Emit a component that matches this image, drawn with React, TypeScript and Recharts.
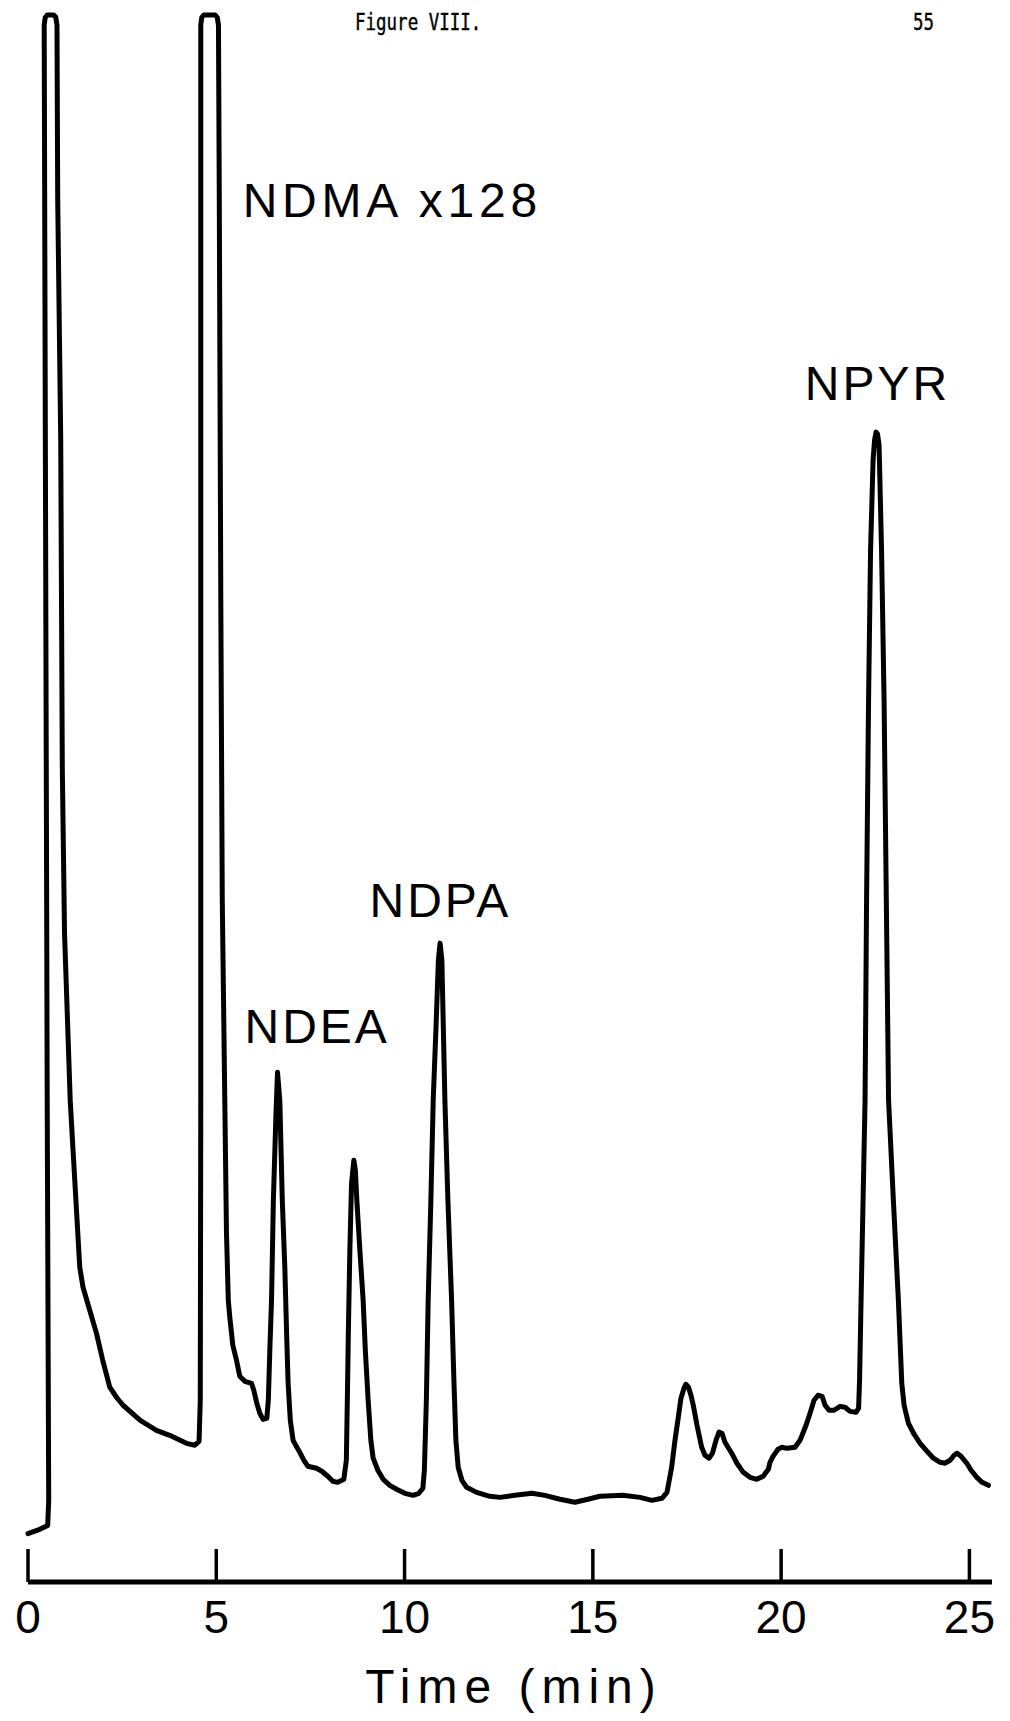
import { LineChart, Line, XAxis, YAxis, ReferenceDot } from "recharts";

// Detector trace: retention time (min) and recorder response (% of full scale)
const times = [
  0.0, 0.311, 0.523, 0.55, 0.51, 0.43, 0.457, 0.51, 0.683, 0.736, 0.77, 0.789,
  0.869, 0.911, 0.97, 1.121, 1.196, 1.374, 1.461, 1.639, 1.817, 1.985, 2.171,
  2.349, 2.524, 2.982, 3.411, 3.762, 4.208, 4.429, 4.543, 4.575, 4.588, 4.588,
  4.614, 4.667, 4.973, 5.027, 5.058, 5.08, 5.12, 5.159, 5.226, 5.271, 5.319,
  5.359, 5.439, 5.537, 5.624, 5.757, 5.935, 5.996, 6.076, 6.156, 6.243, 6.342,
  6.382, 6.422, 6.467, 6.516, 6.582, 6.626, 6.687, 6.753, 6.82, 6.873, 6.908,
  6.966, 7.04, 7.139, 7.218, 7.325, 7.431, 7.662, 7.803, 7.962, 8.095, 8.228,
  8.387, 8.454, 8.48, 8.507, 8.547, 8.592, 8.653, 8.693, 8.733, 8.813, 8.9,
  8.958, 9.033, 9.105, 9.166, 9.291, 9.432, 9.609, 9.787, 10.008, 10.228,
  10.38, 10.486, 10.526, 10.579, 10.627, 10.699, 10.761, 10.832, 10.898,
  10.943, 10.991, 11.071, 11.151, 11.249, 11.31, 11.363, 11.424, 11.523,
  11.648, 11.913, 12.266, 12.532, 12.93, 13.382, 13.727, 14.126, 14.524,
  14.87, 15.189, 15.8, 16.251, 16.57, 16.836, 16.969, 17.093, 17.181, 17.269,
  17.34, 17.42, 17.473, 17.54, 17.606, 17.667, 17.766, 17.89, 17.978, 18.084,
  18.177, 18.27, 18.35, 18.43, 18.509, 18.687, 18.828, 18.995, 19.173, 19.351,
  19.519, 19.66, 19.705, 19.784, 19.917, 20.024, 20.157, 20.369, 20.502,
  20.662, 20.768, 20.874, 20.981, 21.088, 21.167, 21.273, 21.406, 21.566,
  21.698, 21.831, 21.991, 22.057, 22.083, 22.123, 22.176, 22.229, 22.269,
  22.322, 22.375, 22.442, 22.481, 22.521, 22.561, 22.601, 22.667, 22.734,
  22.787, 22.853, 22.981, 23.114, 23.204, 23.265, 23.38, 23.531, 23.691,
  23.877, 24.044, 24.222, 24.355, 24.488, 24.594, 24.674, 24.78, 24.931,
  25.045, 25.197, 25.337, 25.505,
];

const signal = [
  3.09, 3.36, 3.61, 5.22, 30.7, 99.36, 99.84, 100, 100, 99.87, 99.36, 88.19,
  72.94, 51.94, 41.41, 30.75, 27.56, 20.09, 18.81, 17.34, 15.88, 14.15, 12.43,
  11.79, 11.28, 10.32, 9.68, 9.36, 8.85, 8.73, 8.98, 11.6, 30.75, 99.36,
  99.84, 100, 100, 99.84, 99.36, 88.19, 62.66, 43.52, 30.75, 22.26, 17.98,
  16.9, 15.11, 14.15, 13.13, 12.81, 12.68, 12.24, 11.41, 10.77, 10.38, 10.45,
  11.6, 14.79, 17.98, 24.36, 29.66, 32.53, 30.75, 24.36, 20.09, 15.43, 12.68,
  10.32, 9.04, 8.6, 8.28, 7.77, 7.39, 7.26, 7.07, 6.75, 6.43, 6.36,
  6.55, 7.77, 11.6, 15.88, 21.17, 25.45, 26.92, 26.28, 24.36, 21.17, 17.98,
  14.79, 11.6, 9.04, 7.9, 7.13, 6.55, 6.17, 5.92, 5.66, 5.53,
  5.66, 5.98, 7.13, 11.6, 17.98, 24.36, 30.75, 35.21, 39.68,
  40.77, 39.68, 30.75, 24.36, 17.98, 12.88, 9.04, 7.32, 6.49,
  6.04, 5.72, 5.47, 5.4, 5.53, 5.66, 5.53, 5.28, 5.09,
  5.28, 5.47, 5.53, 5.4, 5.21, 5.34, 5.72, 7.32, 9.04, 10.51,
  11.73, 12.37, 12.62, 12.43, 11.92, 11.28, 10.0, 8.6, 8.09, 7.9,
  8.22, 9.04, 9.56, 9.49, 8.92, 8.22, 7.58, 7.0, 6.68, 6.55,
  6.74, 7.19, 7.64, 8.02, 8.47, 8.6, 8.53, 8.6, 9.04,
  10.0, 10.77, 11.6, 11.92, 11.85, 11.28, 10.96, 10.96, 11.21,
  11.15, 10.89, 10.83, 11.09, 12.87, 17.98, 24.36, 30.75, 43.52,
  56.28, 65.85, 71.6, 72.87, 73.38, 73.26, 72.55, 65.85, 56.28,
  44.92, 30.75, 24.36, 17.98, 12.68, 11.28, 10.13, 9.43, 8.85,
  8.34, 7.9, 7.64, 7.58, 7.77, 8.09, 8.22, 8.02, 7.58,
  7.13, 6.68, 6.36, 6.17,
];

const timeTicks = [0, 5, 10, 15, 20, 25];

// label anchors (start of text baseline) in time / response units
const peakNames = ["NDMA x128", "NDEA", "NDPA", "NPYR"];
const peakLabelTimes = [5.7, 5.75, 9.07, 20.63];
const peakLabelLevels = [87.13, 34.37, 42.45, 75.43];
const peakLabelSpacing = [4.8, 3, 3, 3];

const data = times.map((t, i) => ({ t, v: signal[i] }));

const LETTERING = "'Liberation Sans', Arial, sans-serif";
const TYPEWRITER = "'DejaVu Sans Mono', 'Liberation Mono', monospace";

function TimeTick({ x, y, payload }: any) {
  return (
    <g>
      <line x1={x} x2={x} y1={y} y2={y - 33} stroke="#000" strokeWidth={3.5} />
      <text
        x={x}
        y={y + 51}
        textAnchor="middle"
        fontSize={46}
        fontFamily={LETTERING}
        fill="#000"
      >
        {payload.value}
      </text>
    </g>
  );
}

function AxisTitle({ viewBox }: any) {
  const cx = viewBox.x + viewBox.width / 2 + 4;
  return (
    <text
      x={cx}
      y={viewBox.y + 121}
      textAnchor="middle"
      fontSize={48}
      letterSpacing={7}
      fontFamily={LETTERING}
      fill="#000"
    >
      Time (min)
    </text>
  );
}

function PeakLabel({ viewBox, text, spacing }: any) {
  return (
    <text
      x={viewBox.x}
      y={viewBox.y}
      fontSize={48}
      letterSpacing={spacing}
      fontFamily={LETTERING}
      fill="#000"
    >
      {text}
    </text>
  );
}

export default function App() {
  return (
    <div
      style={{
        position: "absolute",
        left: 0,
        top: 0,
        width: 1010,
        height: 1721,
        background: "#fff",
      }}
    >
      <svg
        width={1010}
        height={40}
        style={{ position: "absolute", left: 0, top: 0 }}
      >
        <g transform="translate(0 30) scale(1 1.3)">
          <text x={355} y={0} fontSize={17.5} fontFamily={TYPEWRITER} fill="#000" stroke="#000" strokeWidth={0.3}>
            Figure VIII.
          </text>
          <text x={913} y={0} fontSize={17.5} fontFamily={TYPEWRITER} fill="#000" stroke="#000" strokeWidth={0.3}>
            55
          </text>
        </g>
      </svg>
      <LineChart
        width={1010}
        height={1721}
        data={data}
        margin={{ top: 15, right: 18, left: 28, bottom: 19 }}
      >
        <XAxis
          dataKey="t"
          type="number"
          domain={[0, 25.6]}
          ticks={timeTicks}
          interval={0}
          tick={<TimeTick />}
          tickLine={false}
          tickSize={0}
          tickMargin={0}
          axisLine={{ stroke: "#000", strokeWidth: 5 }}
          height={120}
          label={<AxisTitle />}
        />
        <YAxis type="number" domain={[0, 100]} hide />
        <Line
          dataKey="v"
          type="linear"
          stroke="#000"
          strokeWidth={5}
          strokeLinejoin="round"
          strokeLinecap="round"
          dot={false}
          activeDot={false}
          isAnimationActive={false}
        />
        {peakNames.map((name, i) => (
          <ReferenceDot
            key={name}
            x={peakLabelTimes[i]}
            y={peakLabelLevels[i]}
            r={0}
            fill="none"
            stroke="none"
            label={<PeakLabel text={name} spacing={peakLabelSpacing[i]} />}
          />
        ))}
      </LineChart>
    </div>
  );
}
